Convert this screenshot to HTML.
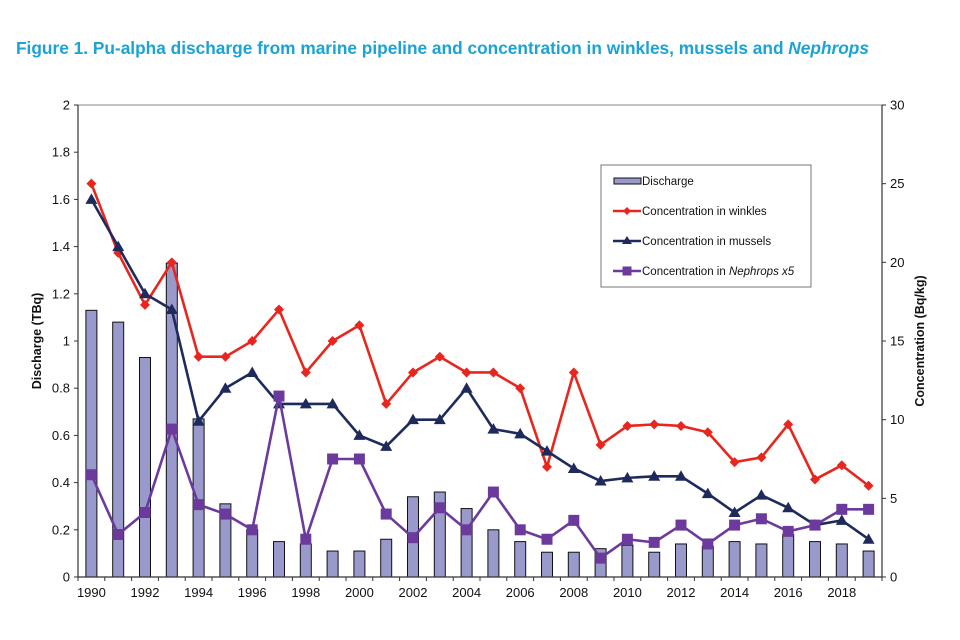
<!DOCTYPE html>
<html><head><meta charset="utf-8">
<style>
body{margin:0;background:#fff;}
svg{display:block;font-family:"Liberation Sans",Arial,sans-serif;}
</style></head>
<body>
<svg id="chart" width="960" height="640" viewBox="0 0 960 640">
<text x="16" y="54" font-size="17.5" font-weight="bold" fill="#1aa3d6" textLength="853" lengthAdjust="spacingAndGlyphs">Figure 1. Pu-alpha discharge from marine pipeline and concentration in winkles, mussels and <tspan font-style="italic">Nephrops</tspan></text>
<g id="plot"></g>
</svg>
<script>
const years = [1990,1991,1992,1993,1994,1995,1996,1997,1998,1999,2000,2001,2002,2003,2004,2005,2006,2007,2008,2009,2010,2011,2012,2013,2014,2015,2016,2017,2018,2019];
const discharge = [1.13,1.08,0.93,1.33,0.67,0.31,0.2,0.15,0.14,0.11,0.11,0.16,0.34,0.36,0.29,0.2,0.15,0.105,0.105,0.12,0.135,0.105,0.14,0.13,0.15,0.14,0.18,0.15,0.14,0.11];
const winkles = [25,20.6,17.3,20,14,14,15,17,13,15,16,11,13,14,13,13,12,7,13,8.4,9.6,9.7,9.6,9.2,7.3,7.6,9.7,6.2,7.1,5.8];
const mussels = [24,21,18,17,9.9,12,13,11,11,11,9,8.3,10,10,12,9.4,9.1,8,6.9,6.1,6.3,6.4,6.4,5.3,4.1,5.2,4.4,3.3,3.6,2.4];
const nephrops = [6.5,2.7,4.1,9.4,4.6,4.0,3.0,11.5,2.4,7.5,7.5,4.0,2.5,4.4,3.0,5.4,3.0,2.4,3.6,1.2,2.4,2.2,3.3,2.1,3.3,3.7,2.9,3.3,4.3,4.3];
const leftTicks = ["0","0.2","0.4","0.6","0.8","1","1.2","1.4","1.6","1.8","2"];
const rightTicks = ["0","5","10","15","20","25","30"];

const L=78,R=882,T=105,B=577;
const NS="http://www.w3.org/2000/svg";
const g=document.getElementById('plot');
const step=(R-L)/years.length;
function xc(i){return L+step*(i+0.5);}
function yl(v){return B-(v/2)*(B-T);}
function yr(v){return B-(v/30)*(B-T);}
function mk(tag,attrs,parent){const e=document.createElementNS(NS,tag);for(const k in attrs)e.setAttribute(k,attrs[k]);(parent||g).appendChild(e);return e;}

// frame
let fr=mk('rect',{x:L,y:T,width:R-L,height:B-T,fill:'none',stroke:'#888','stroke-width':1});



// bars
discharge.forEach((v,i)=>{
  const b=mk('rect',{x:xc(i)-5.5,y:yl(v),width:11,height:B-yl(v),fill:'#9999cc',stroke:'#111','stroke-width':1});
  
  
});

// axes
let ax=mk('line',{x1:L,y1:T,x2:L,y2:B,stroke:'#333','stroke-width':1.2});


let ax2=mk('line',{x1:R,y1:T,x2:R,y2:B,stroke:'#333','stroke-width':1.2});


let ax3=mk('line',{x1:L,y1:B,x2:R,y2:B,stroke:'#333','stroke-width':1.2});



leftTicks.forEach((t,i)=>{
  const y=yl(parseFloat(t));
  mk('line',{x1:L-4,y1:y,x2:L,y2:y,stroke:'#333'});
  const tx=mk('text',{x:L-8,y:y+4.5,'text-anchor':'end','font-size':13,fill:'#111'});
  tx.textContent=t;
  
  
});
rightTicks.forEach((t,i)=>{
  const y=yr(parseFloat(t));
  mk('line',{x1:R,y1:y,x2:R+4,y2:y,stroke:'#333'});
  const tx=mk('text',{x:R+8,y:y+4.5,'text-anchor':'start','font-size':13,fill:'#111'});
  tx.textContent=t;
  
  
});
for(let i=0;i<=years.length;i++){
  const x=L+step*i;
  mk('line',{x1:x,y1:B,x2:x,y2:B+4,stroke:'#333'});
}
years.forEach((yv,i)=>{
  if(i%2) return;
  const tx=mk('text',{x:xc(i),y:B+20,'text-anchor':'middle','font-size':13,fill:'#111'});
  tx.textContent=yv;
  
  
});

let yt=mk('text',{x:0,y:0,transform:'translate(41,341) rotate(-90)','text-anchor':'middle','font-size':12.5,'font-weight':'bold',fill:'#111'});
yt.textContent='Discharge (TBq)';


let yt2=mk('text',{x:0,y:0,transform:'translate(924,341) rotate(-90)','text-anchor':'middle','font-size':12.5,'font-weight':'bold',fill:'#111'});
yt2.textContent='Concentration (Bq/kg)';



function marker(type,x,y,color){
  if(type==='diamond') return mk('polygon',{points:`${x},${y-5} ${x+5},${y} ${x},${y+5} ${x-5},${y}`,fill:color});
  if(type==='tri') return mk('polygon',{points:`${x},${y-6} ${x+6},${y+4.5} ${x-6},${y+4.5}`,fill:color});
  return mk('rect',{x:x-5.5,y:y-5.5,width:11,height:11,fill:color});
}
function series(data,color,type,name){
  const pts=data.map((v,i)=>xc(i)+','+yr(v)).join(' ');
  const pl=mk('polyline',{points:pts,fill:'none',stroke:color,'stroke-width':2.6,'stroke-linejoin':'round'});
  
  
  data.forEach((v,i)=>{
    const m=marker(type,xc(i),yr(v),color);
    
    
  });
}
series(winkles,'#e8261e','diamond','winkles');
series(mussels,'#1f2a5c','tri','mussels');
series(nephrops,'#6b3a9c','square','nephrops');

// legend
const lg=mk('g',{});


mk('rect',{x:601,y:165,width:210,height:122,fill:'#fff',stroke:'#777'},lg);
const entries=[['Discharge','#9999cc','bar'],['Concentration in winkles','#e8261e','diamond'],['Concentration in mussels','#1f2a5c','tri'],['Concentration in ','#6b3a9c','square']];
entries.forEach((e,k)=>{
  const y=181+k*30;
  if(e[2]==='bar'){mk('rect',{x:614,y:y-3,width:27,height:6,fill:'#9999cc',stroke:'#111'},lg);}
  else{
    mk('line',{x1:613,y1:y,x2:641,y2:y,stroke:e[1],'stroke-width':2.6},lg);
    const m=e[2]==='diamond'?`627,${y-4} 631,${y} 627,${y+4} 623,${y}`:e[2]==='tri'?`627,${y-5} 632,${y+3} 622,${y+3}`:null;
    if(m) mk('polygon',{points:m,fill:e[1]},lg); else mk('rect',{x:622.5,y:y-4.5,width:9,height:9,fill:e[1]},lg);
  }
  const t=mk('text',{x:642,y:y+4,'font-size':11.5,fill:'#111'},lg);
  t.textContent=e[0];
  if(k===3){const ts=mk('tspan',{'font-style':'italic'},t);ts.textContent='Nephrops x5';}
  
  
});
</script>
</body></html>
